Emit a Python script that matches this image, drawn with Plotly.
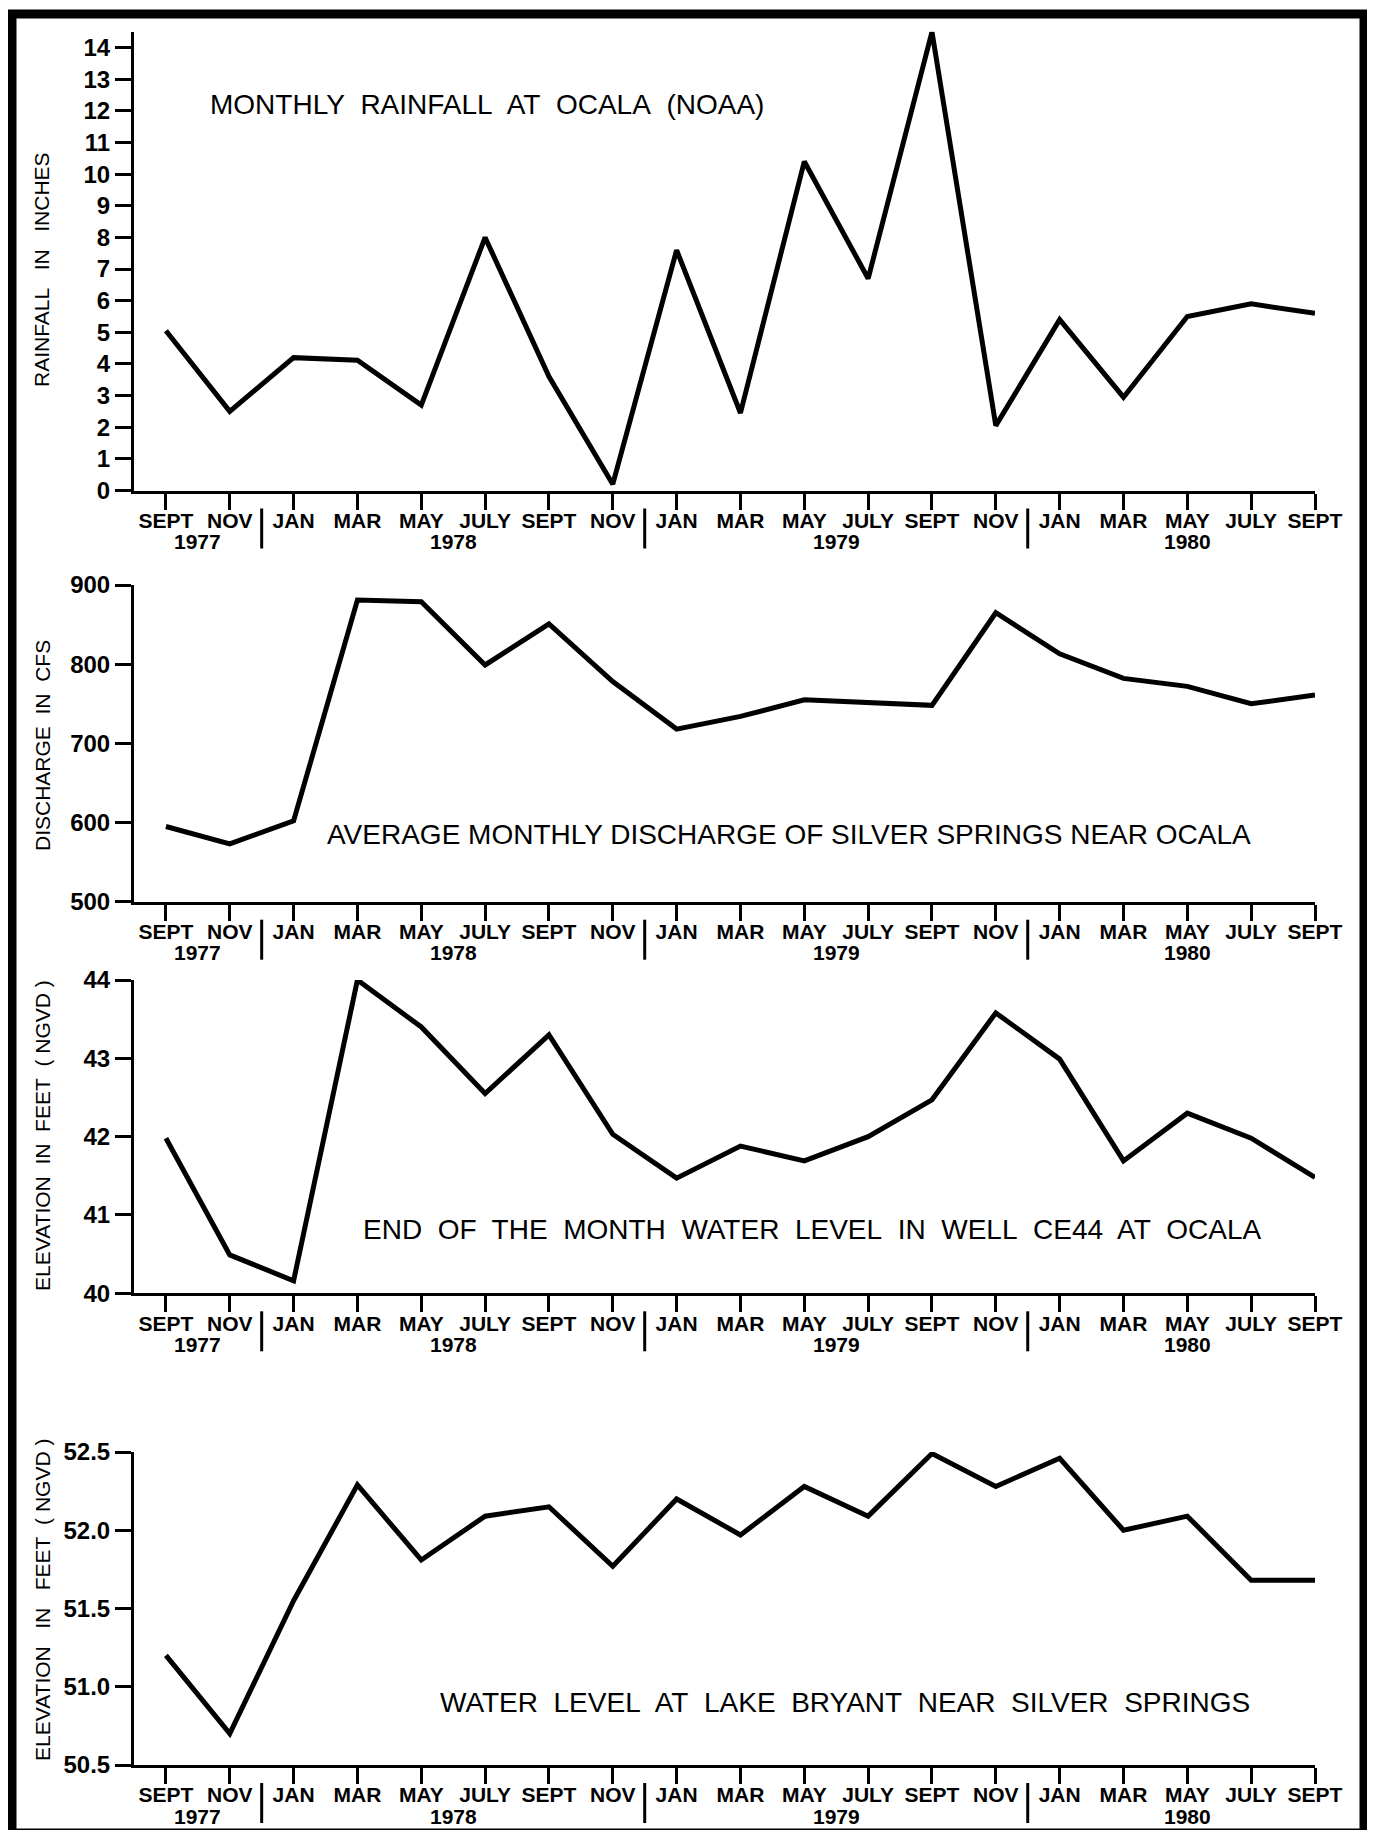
import plotly.graph_objects as go

# ---------------- data ----------------
months = ["SEPT", "NOV", "JAN", "MAR", "MAY", "JULY", "SEPT", "NOV", "JAN", "MAR",
          "MAY", "JULY", "SEPT", "NOV", "JAN", "MAR", "MAY", "JULY", "SEPT"]
month_year = [1977, 1977, 1978, 1978, 1978, 1978, 1978, 1978, 1979, 1979,
              1979, 1979, 1979, 1979, 1980, 1980, 1980, 1980, 1980]

rainfall = [5.05, 2.5, 4.2, 4.12, 2.7, 8.0, 3.6, 0.2, 7.6, 2.45,
            10.4, 6.7, 14.5, 2.05, 5.4, 2.95, 5.5, 5.9, 5.6]
discharge = [595, 573, 602, 881, 879, 799, 851, 778, 718, 734,
             755, 751, 748, 865, 813, 782, 772, 750, 761]
well_ce44 = [41.98, 40.49, 40.16, 44.0, 43.4, 42.55, 43.3, 42.03, 41.47, 41.88,
             41.69, 42.0, 42.47, 43.58, 42.99, 41.69, 42.3, 41.98, 41.48]
lake_bryant = [51.2, 50.7, 51.55, 52.29, 51.81, 52.09, 52.15, 51.77, 52.2, 51.97,
               52.28, 52.09, 52.49, 52.28, 52.46, 52.0, 52.09, 51.68, 51.68]

NB = "\u00a0"
panel_titles = ["MONTHLY" + NB + " RAINFALL" + NB + " AT" + NB + " OCALA" + NB + " (NOAA)",
                "AVERAGE MONTHLY DISCHARGE OF SILVER SPRINGS NEAR OCALA",
                (NB + " ").join("END OF THE MONTH WATER LEVEL IN WELL CE44 AT OCALA".split(" ")),
                (NB + " ").join("WATER LEVEL AT LAKE BRYANT NEAR SILVER SPRINGS".split(" "))]
axis_titles = ["RAINFALL" + NB + NB + " IN" + NB + NB + " INCHES",
               "DISCHARGE" + NB + " IN" + NB + " CFS",
               "ELEVATION" + NB + " IN" + NB + " FEET" + NB + " (" + NB + "NGVD" + NB + ")",
               "ELEVATION" + NB + NB + " IN" + NB + NB + " FEET" + NB + " (" + NB + "NGVD" + NB + ")"]
y_ticks = [list(range(0, 15)), [500, 600, 700, 800, 900], [40, 41, 42, 43, 44],
           [50.5, 51.0, 51.5, 52.0, 52.5]]
y_ranges = [[0, 14.5], [500, 900], [40, 44], [50.5, 52.5]]
y_formats = ["d", "d", "d", ".1f"]
series = [rainfall, discharge, well_ce44, lake_bryant]

# ---------------- layout geometry (page pixels) ----------------
PAGE_W, PAGE_H = 1375, 1838
OFF = 8                       # default body margin of the html page
W, H = PAGE_W - 2 * OFF, PAGE_H - 2 * OFF
x_left_px, x_right_px = 134, 1315
panel_px = [(490.5, 31.8), (901.7, 585.0), (1293.3, 980.0), (1765.0, 1452.0)]
title_pos = [(487, 104), (789, 835), (812, 1229), (845, 1702)]
ytitle_pos = [(42, 270), (42, 746), (42, 1136), (42, 1600)]

FONT = "Liberation Sans, Arial, sans-serif"
BLACK = "#000000"

def py(p):
    return 1 - (p - OFF) / H

def px(p):
    return (p - OFF) / W

fig = go.Figure()
layout = dict(
    template="none",
    width=W, height=H, autosize=False,
    margin=dict(l=0, r=0, t=0, b=0, pad=0, autoexpand=False),
    paper_bgcolor="white", plot_bgcolor="white",
    showlegend=False,
    font=dict(family=FONT, color=BLACK),
    shapes=[], annotations=[],
)

xidx = list(range(len(months)))
years = sorted(set(month_year))
year_first = {y: min(i for i, v in enumerate(month_year) if v == y) for y in years}
year_last = {y: max(i for i, v in enumerate(month_year) if v == y) for y in years}

for k in range(4):
    n = "" if k == 0 else str(k + 1)
    bot, top = panel_px[k]
    fig.add_trace(go.Scatter(
        x=xidx, y=series[k], mode="lines",
        line=dict(color=BLACK, width=5, shape="linear"),
        xaxis="x" + n, yaxis="y" + n, hoverinfo="skip",
    ))
    layout["xaxis" + n] = dict(
        domain=[px(x_left_px), px(x_right_px)],
        anchor="y" + n, automargin=False,
        range=[-0.5, len(months) - 1],
        tickmode="array", tickvals=xidx, ticktext=months,
        ticks="outside", ticklen=16, tickwidth=3, tickcolor=BLACK,
        ticklabelstandoff=-7,
        showline=True, linewidth=3, linecolor=BLACK,
        showgrid=False, zeroline=False,
        tickfont=dict(family=FONT, size=21, color=BLACK, weight="bold"),
        fixedrange=True,
    )
    layout["yaxis" + n] = dict(
        domain=[py(bot), py(top)],
        anchor="x" + n, automargin=False,
        range=y_ranges[k],
        tickmode="array", tickvals=y_ticks[k],
        tickformat=y_formats[k],
        ticks="outside", ticklen=16, tickwidth=3, tickcolor=BLACK,
        showline=True, linewidth=3, linecolor=BLACK,
        showgrid=False, zeroline=False,
        tickfont=dict(family=FONT, size=24, color=BLACK, weight="bold"),
        fixedrange=True,
    )
    tx, ty = title_pos[k]
    layout["annotations"].append(dict(
        text=panel_titles[k], xref="paper", yref="paper",
        x=px(tx), y=py(ty), xanchor="center", yanchor="middle",
        showarrow=False, font=dict(family=FONT, size=28, color=BLACK)))
    ax, ay = ytitle_pos[k]
    layout["annotations"].append(dict(
        text=axis_titles[k], xref="paper", yref="paper",
        x=px(ax), y=py(ay), xanchor="center", yanchor="middle", textangle=-90,
        showarrow=False, font=dict(family=FONT, size=21, color=BLACK)))
    for y in years:
        cx = (year_first[y] + year_last[y]) / 2
        layout["annotations"].append(dict(
            text=str(y), xref="x" + n, yref="paper",
            x=cx, y=py(bot + 51), xanchor="center", yanchor="middle",
            showarrow=False, font=dict(family=FONT, size=21, color=BLACK, weight="bold")))
        if year_first[y] > 0:
            sx = year_first[y] - 0.5
            layout["shapes"].append(dict(
                type="line", xref="x" + n, yref="paper",
                x0=sx, x1=sx, y0=py(bot + 18), y1=py(bot + 58),
                line=dict(color=BLACK, width=3)))

# outer frame
layout["shapes"].append(dict(
    type="rect", xref="paper", yref="paper",
    x0=px(12), x1=px(1364), y0=py(1833), y1=py(14),
    line=dict(color=BLACK, width=9), fillcolor="rgba(0,0,0,0)", layer="below"))

fig.update_layout(**layout)
fig.write_html("out.html")
